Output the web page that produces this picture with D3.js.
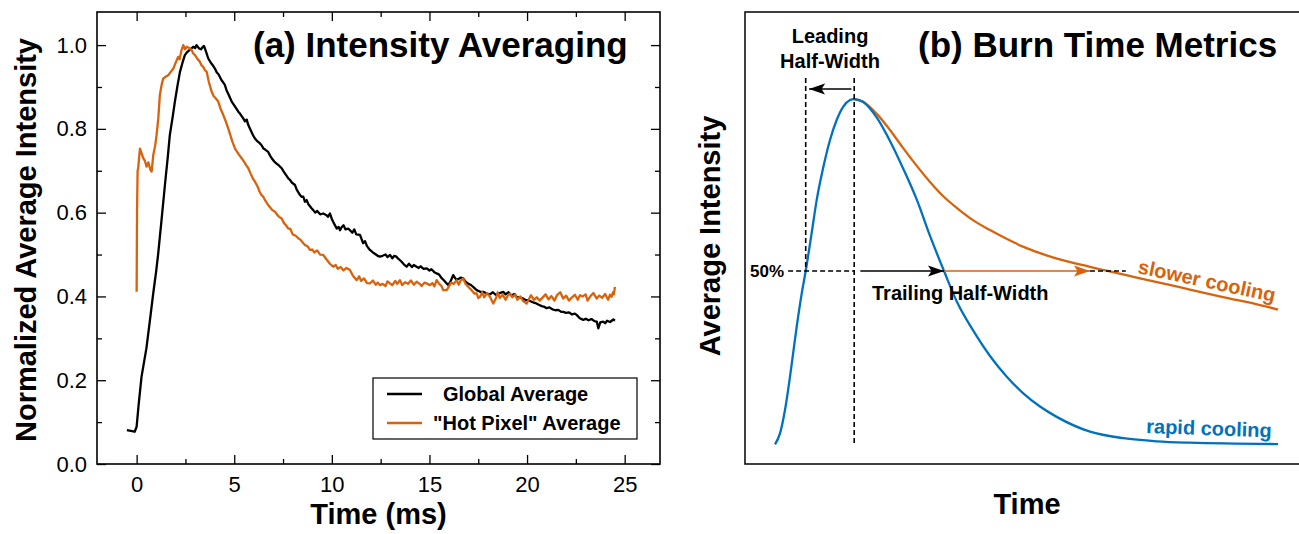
<!DOCTYPE html>
<html lang="en">
<head>
<meta charset="UTF-8">
<title>Burn time</title>
<script src="https://d3js.org/d3.v7.min.js"></script>
<style>
  body { margin: 0; background: #fff; }
  text { font-family: "Liberation Sans", Arial, sans-serif; }
</style>
</head>
<body>
<script>
// ---- panel (a) data: [time ms, normalized intensity] ----
var globalAvg = [
  [-0.5,0.081],[-0.3,0.079],[-0.1,0.077],[0.0,0.089],[0.1,0.14],[0.25,0.208],[0.5,0.276],[0.7,0.35],
  [0.85,0.407],[1.0,0.46],[1.1,0.5],[1.25,0.57],[1.45,0.666],[1.6,0.735],[1.7,0.785],[1.85,0.83],
  [1.96,0.865],[2.1,0.905],[2.22,0.936],[2.35,0.958],[2.47,0.976],[2.6,0.984],[2.75,0.99],[2.9,0.996],
  [3.0,0.993],[3.07,1.0],[3.2,0.992],[3.3,0.99],[3.36,0.994],[3.45,0.998],[3.55,0.985],[3.67,0.968],
  [3.8,0.958],[3.9,0.952],[4.01,0.944],[4.1,0.935],[4.2,0.93],[4.35,0.916],[4.45,0.91],[4.52,0.905],
  [4.6,0.893],[4.75,0.878],[4.87,0.865],[5.0,0.856],[5.1,0.849],[5.21,0.841],[5.3,0.836],[5.46,0.825],
  [5.55,0.818],[5.64,0.822],[5.72,0.809],[5.85,0.796],[5.95,0.786],[6.06,0.777],[6.15,0.772],[6.3,0.766],
  [6.4,0.761],[6.5,0.753],[6.6,0.75],[6.74,0.745],[6.85,0.735],[6.92,0.73],[7.05,0.722],[7.2,0.716],
  [7.3,0.712],[7.43,0.706],[7.55,0.697],[7.65,0.69],[7.77,0.682],[7.86,0.678],[7.95,0.672],[8.11,0.666],
  [8.2,0.655],[8.37,0.642],[8.45,0.638],[8.54,0.638],[8.62,0.626],[8.71,0.63],[8.8,0.62],[8.97,0.61],
  [9.05,0.606],[9.15,0.6],[9.25,0.604],[9.4,0.596],[9.56,0.598],[9.73,0.594],[9.8,0.59],[9.9,0.598],
  [10.0,0.585],[10.1,0.575],[10.25,0.562],[10.35,0.566],[10.42,0.558],[10.5,0.565],[10.6,0.57],[10.7,0.56],
  [10.84,0.562],[10.93,0.558],[11.05,0.552],[11.15,0.56],[11.25,0.548],[11.44,0.547],[11.5,0.54],[11.6,0.527],
  [11.7,0.532],[11.8,0.52],[11.95,0.511],[12.1,0.505],[12.2,0.502],[12.35,0.497],[12.46,0.495],[12.6,0.497],
  [12.75,0.5],[12.85,0.494],[12.98,0.499],[13.1,0.491],[13.2,0.497],[13.3,0.495],[13.4,0.49],[13.55,0.484],
  [13.7,0.476],[13.83,0.471],[13.95,0.478],[14.1,0.47],[14.2,0.475],[14.34,0.471],[14.45,0.468],[14.55,0.472],
  [14.7,0.466],[14.86,0.467],[15.0,0.462],[15.1,0.465],[15.25,0.458],[15.37,0.455],[15.5,0.452],[15.6,0.445],
  [15.75,0.438],[15.88,0.431],[15.97,0.427],[16.1,0.438],[16.22,0.451],[16.3,0.445],[16.39,0.439],[16.5,0.442],
  [16.6,0.445],[16.73,0.443],[16.85,0.435],[17.0,0.43],[17.1,0.428],[17.24,0.423],[17.35,0.418],[17.42,0.415],
  [17.6,0.411],[17.76,0.411],[17.93,0.407],[18.1,0.405],[18.25,0.41],[18.4,0.404],[18.6,0.408],[18.78,0.411],
  [18.9,0.405],[19.05,0.41],[19.2,0.402],[19.35,0.406],[19.47,0.399],[19.6,0.398],[19.75,0.396],[19.9,0.392],
  [20.05,0.391],[20.15,0.389],[20.3,0.386],[20.45,0.384],[20.6,0.38],[20.75,0.377],[20.9,0.375],[21.0,0.372],
  [21.15,0.374],[21.3,0.369],[21.45,0.367],[21.6,0.368],[21.75,0.363],[21.85,0.363],[22.0,0.361],[22.15,0.362],
  [22.3,0.357],[22.45,0.359],[22.54,0.356],[22.7,0.348],[22.88,0.344],[23.0,0.347],[23.15,0.343],[23.3,0.346],
  [23.45,0.341],[23.57,0.34],[23.65,0.324],[23.75,0.338],[23.9,0.34],[24.0,0.336],[24.1,0.342],[24.25,0.339],
  [24.42,0.345],[24.5,0.342]
];

var hotPixelAvg = [
  [0.0,0.411],[0.02,0.6],[0.05,0.7],[0.08,0.706],[0.17,0.753],[0.25,0.742],[0.34,0.73],[0.42,0.724],
  [0.51,0.71],[0.6,0.72],[0.7,0.703],[0.77,0.698],[0.85,0.737],[0.95,0.76],[1.02,0.785],[1.11,0.825],
  [1.19,0.881],[1.28,0.905],[1.36,0.92],[1.5,0.925],[1.62,0.928],[1.75,0.936],[1.88,0.944],[2.0,0.958],
  [2.13,0.972],[2.2,0.966],[2.3,0.988],[2.39,1.0],[2.48,0.99],[2.56,0.996],[2.7,0.993],[2.82,0.988],
  [2.9,0.98],[2.99,0.976],[3.1,0.968],[3.24,0.96],[3.32,0.952],[3.41,0.948],[3.5,0.94],[3.59,0.936],
  [3.7,0.912],[3.84,0.889],[3.95,0.878],[4.05,0.873],[4.18,0.865],[4.3,0.848],[4.44,0.833],[4.55,0.82],
  [4.69,0.801],[4.8,0.785],[4.9,0.77],[5.04,0.753],[5.15,0.745],[5.25,0.738],[5.38,0.73],[5.5,0.722],
  [5.6,0.714],[5.72,0.706],[5.85,0.692],[5.95,0.682],[6.06,0.674],[6.2,0.662],[6.3,0.65],[6.4,0.642],
  [6.5,0.637],[6.6,0.628],[6.74,0.618],[6.85,0.612],[6.95,0.606],[7.09,0.602],[7.2,0.595],[7.3,0.59],
  [7.43,0.586],[7.55,0.575],[7.65,0.57],[7.77,0.562],[7.86,0.562],[8.0,0.548],[8.15,0.545],[8.28,0.539],
  [8.4,0.535],[8.54,0.527],[8.62,0.523],[8.75,0.52],[8.88,0.511],[9.0,0.512],[9.1,0.505],[9.25,0.51],
  [9.4,0.5],[9.56,0.499],[9.7,0.49],[9.8,0.484],[9.9,0.478],[10.07,0.471],[10.2,0.475],[10.3,0.466],
  [10.45,0.47],[10.6,0.462],[10.75,0.468],[10.93,0.463],[11.05,0.452],[11.15,0.445],[11.27,0.439],[11.4,0.448],
  [11.5,0.437],[11.65,0.443],[11.8,0.432],[11.95,0.431],[12.1,0.438],[12.25,0.428],[12.36,0.433],[12.46,0.427],
  [12.6,0.43],[12.75,0.425],[12.85,0.436],[12.98,0.431],[13.1,0.427],[13.25,0.437],[13.35,0.43],[13.49,0.439],
  [13.6,0.427],[13.75,0.434],[13.9,0.43],[14.05,0.438],[14.2,0.428],[14.34,0.435],[14.5,0.43],[14.6,0.425],
  [14.75,0.433],[14.9,0.43],[15.03,0.427],[15.15,0.432],[15.25,0.424],[15.37,0.439],[15.5,0.43],[15.6,0.426],
  [15.71,0.415],[15.88,0.415],[16.0,0.424],[16.1,0.433],[16.25,0.43],[16.39,0.439],[16.5,0.428],[16.6,0.438],
  [16.73,0.443],[16.85,0.43],[16.95,0.425],[17.05,0.42],[17.16,0.415],[17.3,0.407],[17.42,0.407],[17.5,0.396],
  [17.59,0.399],[17.7,0.41],[17.8,0.398],[17.95,0.408],[18.1,0.399],[18.27,0.383],[18.4,0.395],[18.5,0.41],
  [18.6,0.396],[18.75,0.404],[18.9,0.392],[19.0,0.401],[19.12,0.407],[19.25,0.398],[19.4,0.405],[19.5,0.392],
  [19.65,0.4],[19.8,0.389],[19.98,0.383],[20.1,0.394],[20.2,0.403],[20.35,0.392],[20.5,0.398],[20.65,0.39],
  [20.83,0.399],[20.95,0.405],[21.1,0.393],[21.25,0.401],[21.4,0.39],[21.55,0.404],[21.7,0.41],[21.85,0.395],
  [22.0,0.402],[22.15,0.39],[22.3,0.398],[22.45,0.404],[22.6,0.392],[22.71,0.403],[22.85,0.4],[23.0,0.405],
  [23.1,0.39],[23.25,0.401],[23.4,0.408],[23.57,0.395],[23.7,0.402],[23.85,0.397],[24.0,0.406],[24.15,0.392],
  [24.25,0.404],[24.33,0.399],[24.4,0.41],[24.45,0.405],[24.5,0.423]
];

var xMajorTicks = [0, 5, 10, 15, 20, 25];
var xMinorTicks = [2.5, 7.5, 12.5, 17.5, 22.5];
var yMajorTicks = [0, 0.2, 0.4, 0.6, 0.8, 1.0];
var yMinorTicks = [0.1, 0.3, 0.5, 0.7, 0.9];
var legendLabels = ['Global Average', '"Hot Pixel" Average'];

// ---- panel (b) schematic data: [time (arb.), intensity fraction of peak] ----
var rapidCooling = [
  [0.536,-0.004],[0.625,0.028],[0.714,0.096],[0.804,0.193],[0.923,0.338],[1.013,0.435],[1.084,0.5],
  [1.19,0.61],[1.28,0.706],[1.40,0.803],[1.518,0.881],[1.637,0.939],[1.755,0.978],[1.875,0.997],[1.95,1.0],
  [2.107,0.992],[2.357,0.945],[2.589,0.878],[2.821,0.799],[3.071,0.706],[3.304,0.602],[3.554,0.5],
  [3.786,0.41],[4.071,0.328],[4.375,0.253],[4.679,0.192],[4.964,0.145],[5.268,0.106],[5.566,0.076],
  [6.161,0.033],[6.756,0.014],[7.352,0.005],[7.946,0.001],[9.52,-0.003]
];
var slowerCooling = [
  [1.95,1.0],[2.107,0.992],[2.357,0.956],[2.589,0.91],[2.821,0.858],[3.071,0.805],[3.304,0.759],
  [3.536,0.718],[3.786,0.683],[4.071,0.648],[4.375,0.619],[4.679,0.593],[4.964,0.571],[5.268,0.552],
  [5.571,0.536],[6.161,0.512],[6.75,0.49],[7.357,0.468],[7.946,0.446],[8.536,0.424],[9.143,0.403],
  [9.518,0.388]
];
var halfLevel = 0.5;
var peakT = 1.95;
var leadT = 1.084;       // rising edge crosses 50%
var trailRapidT = 3.554; // rapid cooling crosses 50%
var trailSlowTip = 6.16; // orange arrow tip
var trailSlowT = 6.8;    // end of dashed guide past the slower cooling crossing

var W = 1299, H = 534;
var orange = '#D9620C', blue = '#0072BD';

var svg = d3.select('body').append('svg')
    .attr('width', W)
    .attr('height', H);

var defs = svg.append('defs');
function marker(id, color) {
    defs.append('marker')
        .attr('id', id)
        .attr('markerUnits', 'userSpaceOnUse')
        .attr('viewBox', '0 -6 17 12')
        .attr('refX', 16).attr('refY', 0)
        .attr('markerWidth', 17).attr('markerHeight', 12)
        .attr('orient', 'auto')
        .append('path')
        .attr('d', 'M0,-5.5L16,0L0,5.5L3.5,0Z')
        .attr('fill', color);
}
marker('arrBlack', '#000');
marker('arrOrange', orange);

// ================= panel (a) =================
var a = {left: 97, right: 660, top: 12, bottom: 464};
var x = d3.scaleLinear().domain([-2.03, 26.81]).range([a.left, a.right]);
var y = d3.scaleLinear().domain([0, 1.079]).range([a.bottom, a.top]);

function ticks(axis, tr, vals, size, labels) {
    var g = svg.append('g')
        .attr('transform', tr)
        .call(axis.tickValues(vals).tickSizeInner(-size).tickSizeOuter(0)
            .tickPadding(labels ? 12 : 0)
            .tickFormat(labels ? labels : ''));
    g.select('.domain').remove();
    g.selectAll('line').attr('stroke', '#000').attr('stroke-width', 1.3);
    g.selectAll('text').attr('font-size', 22).attr('fill', '#000')
        .style('font-family', '"Liberation Sans", Arial, sans-serif');
    return g;
}
ticks(d3.axisBottom(x), 'translate(0,' + a.bottom + ')', xMajorTicks, 9, d3.format('d'));
ticks(d3.axisBottom(x), 'translate(0,' + a.bottom + ')', xMinorTicks, 5, null);
ticks(d3.axisTop(x), 'translate(0,' + a.top + ')', xMajorTicks, 9, null);
ticks(d3.axisTop(x), 'translate(0,' + a.top + ')', xMinorTicks, 5, null);
ticks(d3.axisLeft(y), 'translate(' + a.left + ',0)', yMajorTicks, 9, d3.format('.1f'))
    .selectAll('text').attr('x', -10);
ticks(d3.axisLeft(y), 'translate(' + a.left + ',0)', yMinorTicks, 5, null);
ticks(d3.axisRight(y), 'translate(' + a.right + ',0)', yMajorTicks, 9, null);
ticks(d3.axisRight(y), 'translate(' + a.right + ',0)', yMinorTicks, 5, null);

svg.append('rect')
    .attr('x', a.left).attr('y', a.top)
    .attr('width', a.right - a.left).attr('height', a.bottom - a.top)
    .attr('fill', 'none').attr('stroke', '#000').attr('stroke-width', 1.6);

var line = d3.line()
    .x(function (d) { return x(d[0]); })
    .y(function (d) { return y(d[1]); });

svg.append('path').datum(globalAvg)
    .attr('d', line).attr('fill', 'none')
    .attr('stroke', '#000').attr('stroke-width', 2.3).attr('stroke-linejoin', 'round');
svg.append('path').datum(hotPixelAvg)
    .attr('d', line).attr('fill', 'none')
    .attr('stroke', orange).attr('stroke-width', 2.3).attr('stroke-linejoin', 'round');

// legend
var lg = svg.append('g');
lg.append('rect')
    .attr('x', 373).attr('y', 378).attr('width', 264).attr('height', 61)
    .attr('fill', '#fff').attr('stroke', '#000').attr('stroke-width', 1.2);
[['#000', 394, 443], [orange, 423, 433]].forEach(function (r, i) {
    lg.append('line')
        .attr('x1', 387).attr('x2', 422).attr('y1', r[1]).attr('y2', r[1])
        .attr('stroke', r[0]).attr('stroke-width', 2.3);
    lg.append('text')
        .attr('x', r[2]).attr('y', r[1] + 7)
        .attr('font-size', 20).attr('font-weight', 'bold')
        .text(legendLabels[i]);
});

svg.append('text')
    .attr('x', 253).attr('y', 57)
    .attr('font-size', 35).attr('font-weight', 'bold')
    .text('(a) Intensity Averaging');
svg.append('text')
    .attr('x', (a.left + a.right) / 2).attr('y', 524)
    .attr('text-anchor', 'middle')
    .attr('font-size', 29).attr('font-weight', 'bold')
    .text('Time (ms)');
svg.append('text')
    .attr('transform', 'translate(36,240) rotate(-90)')
    .attr('text-anchor', 'middle')
    .attr('font-size', 29).attr('font-weight', 'bold')
    .text('Normalized Average Intensity');

// ================= panel (b) =================
var b = {left: 745, right: 1305, top: 12, bottom: 464};
var xb = d3.scaleLinear().domain([0, 10]).range([b.left, b.right]);
var yb = d3.scaleLinear().domain([-0.061, 1.253]).range([b.bottom, b.top]);

svg.append('rect')
    .attr('x', b.left).attr('y', b.top)
    .attr('width', b.right - b.left).attr('height', b.bottom - b.top)
    .attr('fill', 'none').attr('stroke', '#111').attr('stroke-width', 1.6);

var lineB = d3.line()
    .curve(d3.curveMonotoneX)
    .x(function (d) { return xb(d[0]); })
    .y(function (d) { return yb(d[1]); });

svg.append('path').datum(slowerCooling)
    .attr('d', lineB).attr('fill', 'none')
    .attr('stroke', orange).attr('stroke-width', 2.3);
svg.append('path').datum(rapidCooling)
    .attr('d', lineB).attr('fill', 'none')
    .attr('stroke', blue).attr('stroke-width', 2.3);

// dashed guides and arrows
function seg(x1, y1, x2, y2, color, dash, mk) {
    var l = svg.append('line')
        .attr('x1', xb(x1)).attr('y1', yb(y1))
        .attr('x2', xb(x2)).attr('y2', yb(y2))
        .attr('stroke', color).attr('stroke-width', 1.6);
    if (dash) l.attr('stroke-dasharray', '5,3');
    if (mk) l.attr('marker-end', 'url(#' + mk + ')');
    return l;
}
seg(leadT, 1.061, leadT, halfLevel, '#000', true);
seg(peakT, 1.061, peakT, 0, '#000', true);
seg(0.77, halfLevel, peakT, halfLevel, '#000', true);
seg(2.06, halfLevel, trailRapidT, halfLevel, '#000', false, 'arrBlack');
seg(trailRapidT, halfLevel, trailSlowTip, halfLevel, orange, false, 'arrOrange');
seg(trailSlowTip, halfLevel, trailSlowT, halfLevel, '#000', true);
seg(peakT - 0.05, 1.029, leadT + 0.06, 1.029, '#000', false, 'arrBlack');

function label(txt, px, py, size, color, anchor, rot) {
    svg.append('text')
        .attr('transform', 'translate(' + px + ',' + py + ')' + (rot ? ' rotate(' + rot + ')' : ''))
        .attr('text-anchor', anchor || 'start')
        .attr('font-size', size).attr('font-weight', 'bold')
        .attr('fill', color || '#000')
        .text(txt);
}
label('Leading', 830, 43, 20, '#000', 'middle');
label('Half-Width', 830, 68, 20, '#000', 'middle');
label('50%', 750, yb(halfLevel) + 6, 17);
label('Trailing Half-Width', 872, 300, 20);
label('slower cooling', 1137, 273, 20, orange, 'start', 12);
label('rapid cooling', 1146, 433, 20, blue, 'start', 2);
label('(b) Burn Time Metrics', 918, 57, 35);
label('Time', 1027, 514, 29, '#000', 'middle');
label('Average Intensity', 720, 236, 29, '#000', 'middle', -90);
</script>
</body>
</html>
